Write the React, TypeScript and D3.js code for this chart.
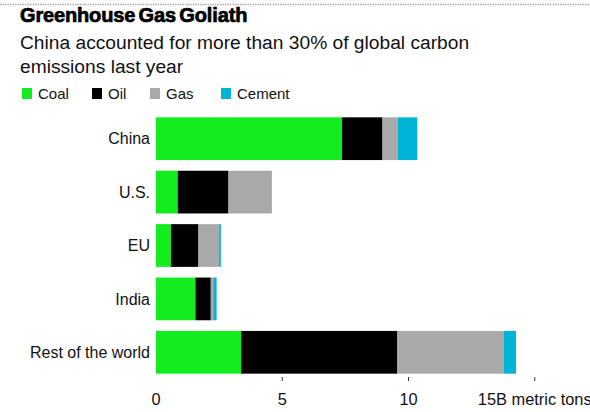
import React from "react";
import * as d3 from "d3";

const categories = ["China", "U.S.", "EU", "India", "Rest of the world"];
const seriesNames = ["Coal", "Oil", "Gas", "Cement"];
const coal = [7.37, 0.86, 0.59, 1.56, 3.37];
const oil = [1.6, 2.01, 1.09, 0.61, 6.19];
const gas = [0.6, 1.72, 0.82, 0.1, 4.22];
const cement = [0.78, 0.0, 0.07, 0.13, 0.48];
const xTicks = [0, 5, 10, 15];
const xTickLabels = ["0", "5", "10", "15B metric tons"];

const colors = ["#13ec1f", "#000000", "#a9a9a9", "#00b4d8"];

const W = 590;
const H = 412;
const FONT = "'Liberation Sans', Arial, Helvetica, sans-serif";

export default function App() {
  const rows = categories.map((c, i) => ({
    cat: c,
    Coal: coal[i],
    Oil: oil[i],
    Gas: gas[i],
    Cement: cement[i],
  }));
  const stack = d3.stack<any>().keys(seriesNames)(rows);

  const x = d3.scaleLinear().domain([0, 15]).range([156, 156 + 15 * 25.25]);
  const y = d3
    .scaleBand<string>()
    .domain(categories)
    .range([112, 379])
    .paddingInner(0.2)
    .paddingOuter(0.1);

  const legendX = [22, 92, 150, 221];

  return (
    <div style={{ position: "absolute", left: 0, top: 0 }}>
      <svg width={W} height={H} style={{ display: "block", background: "#fff" }} fontFamily={FONT}>
        <line x1={0} x2={W} y1={4.5} y2={4.5} stroke="#aaa" strokeWidth={1.5} strokeDasharray="1.5,1" />
        <text
          x={20}
          y={21.5}
          fontSize={20}
          fontWeight="bold"
          letterSpacing={-0.15}
          wordSpacing={-2}
          fill="#000"
          stroke="#000"
          strokeWidth={0.7}
        >
          Greenhouse Gas Goliath
        </text>
        <text x={20} y={49} fontSize={19.2} fill="#111">
          China accounted for more than 30% of global carbon
        </text>
        <text x={20} y={73} fontSize={19.2} fill="#111">
          emissions last year
        </text>
        {seriesNames.map((s, i) => (
          <g key={s}>
            <rect x={legendX[i]} y={88} width={10} height={11} fill={colors[i]} />
            <text x={legendX[i] + 16} y={99.3} fontSize={15} fill="#111">
              {s}
            </text>
          </g>
        ))}
        {stack.map((layer, si) => (
          <g key={layer.key} fill={colors[si]}>
            {layer.map((d, ci) => (
              <rect
                key={ci}
                x={x(d[0])}
                y={y(categories[ci])}
                width={Math.max(0, x(d[1]) - x(d[0]))}
                height={y.bandwidth()}
              />
            ))}
          </g>
        ))}
        {categories.map((c) => (
          <text
            key={c}
            x={150}
            y={(y(c) as number) + y.bandwidth() / 2}
            dy="0.35em"
            textAnchor="end"
            fontSize={16}
            fill="#111"
          >
            {c}
          </text>
        ))}
        {xTicks.map((t, i) => (
          <g key={t}>
            {t !== 0 && <line x1={x(t)} x2={x(t)} y1={377} y2={381} stroke="#333" strokeWidth={1} />}
            <text x={x(t)} y={405} textAnchor="middle" fontSize={16.4} fill="#111">
              {xTickLabels[i]}
            </text>
          </g>
        ))}
      </svg>
    </div>
  );
}
